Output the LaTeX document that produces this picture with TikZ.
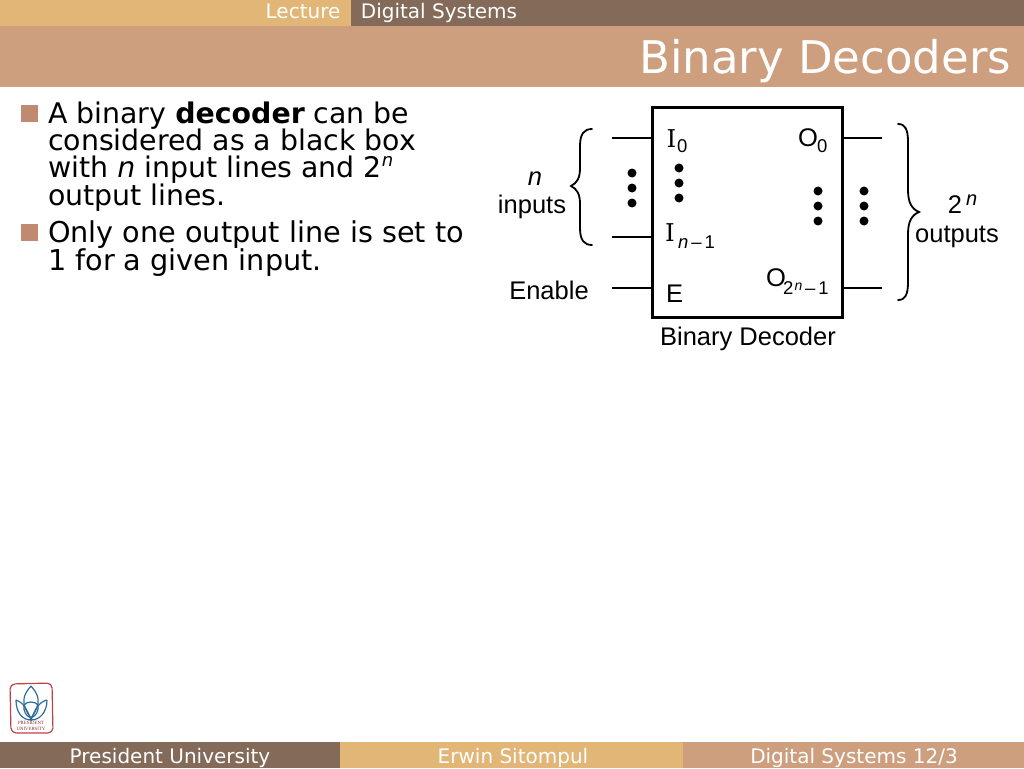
\documentclass[tikz,border=0pt]{standalone}
\usepackage{fontspec}
\setmainfont{DejaVu Sans}
\newfontfamily\arialf{Liberation Sans}
\newfontfamily\timesf{Liberation Serif}
\newfontfamily\slabf{DejaVu Serif}
\definecolor{tanbar}{HTML}{E2B677}
\definecolor{brownbar}{HTML}{836A59}
\definecolor{titlebar}{HTML}{CD9F7E}
\definecolor{bulletc}{HTML}{C08A70}
\definecolor{logored}{HTML}{C0404A}
\definecolor{logoblue}{HTML}{2F6C9C}
\tikzset{
  x=1pt,y=-1pt,
  every node/.style={outer sep=0pt},
  band/.style={draw=none,inner sep=0pt,anchor=north west},
  bartext/.style={text=white,font=\fontsize{20}{20}\selectfont,inner sep=0pt,anchor=base},
  bodytext/.style={font=\fontsize{28.4}{28.4}\selectfont,inner sep=0pt,anchor=base west,text=black},
  bulletsq/.style={fill=bulletc,draw=none,inner sep=0pt,minimum size=16.5pt,anchor=north west},
  difflabel/.style={font=\arialf\fontsize{25.5}{25.5}\selectfont,inner sep=0pt,anchor=base west},
  seriflabel/.style={font=\slabf\fontsize{24.5}{24.5}\selectfont,inner sep=0pt,anchor=base west},
  sublabel/.style={font=\arialf\fontsize{18.5}{18.5}\selectfont,inner sep=0pt,anchor=base west},
  iolabel/.style={font=\arialf\fontsize{25.5}{25.5}\selectfont,inner sep=0pt,anchor=base},
  wire/.style={line width=2pt},
  brace/.style={line width=1.8pt,line cap=round},
  dotc/.style={circle,fill=black,inner sep=0pt,minimum size=9pt},
  lotus/.style={draw=logoblue,line width=1.2pt},
}
\begin{document}
\begin{tikzpicture}
\useasboundingbox (0,0) rectangle (1024,768);
\fill[white] (0,0) rectangle (1024,768);
% header
\node[band,fill=tanbar,minimum width=351pt,minimum height=26pt] (toptan) at (0,0) {};
\node[band,fill=brownbar,minimum width=673pt,minimum height=26pt] (topbrown) at (351,0) {};
\node[band,fill=titlebar,minimum width=1024pt,minimum height=61pt] (titleband) at (0,26) {};
\node[bartext] (lect) at (303,19) {Lecture};
\node[bartext] (ds) at (439,19) {Digital Systems};
\node[font=\fontsize{45}{45}\selectfont,text=white,inner sep=0pt,anchor=base east] (title) at (1011,74) {Binary Decoders};
% footer
\node[band,fill=brownbar,minimum width=340pt,minimum height=26pt] (fa) at (0,742) {};
\node[band,fill=tanbar,minimum width=343pt,minimum height=26pt] (fb) at (340,742) {};
\node[band,fill=titlebar,minimum width=341pt,minimum height=26pt] (fc) at (683,742) {};
\node[bartext] (f1) at (170,763) {President University};
\node[bartext] (f2) at (513,763) {Erwin Sitompul};
\node[bartext] (f3) at (854,763) {Digital Systems 12/3};
% bullets
\node[bulletsq] (b1) at (21,105) {};
\node[bulletsq] (b2) at (21,224) {};
\node[bodytext] (t1) at (48,123) {A binary \textbf{decoder} can be};
\node[bodytext] (t2) at (48,150) {considered as a black box};
\node[bodytext] (t3) at (48,177.5) {with \textit{n} input lines and 2\raisebox{.38em}{\fontsize{18}{18}\selectfont\textit{n}}};
\node[bodytext] (t4) at (48,205) {output lines.};
\node[bodytext,font=\fontsize{28.7}{28.7}\selectfont] (t5) at (48,242) {Only one output line is set to};
\node[bodytext,font=\fontsize{28.7}{28.7}\selectfont] (t6) at (48,270) {1 for a given input.};
% decoder box
\node[draw,line width=3pt,inner sep=0pt,minimum width=190pt,minimum height=210pt,anchor=north west] (box) at (652,107) {};
\coordinate (in0) at (612,138);
\coordinate (in1) at (612,237);
\coordinate (en) at (612,288);
\coordinate (o0) at (882,138);
\coordinate (o1) at (882,288);
\draw[wire] (in0) -- (in0 -| box.west);
\draw[wire] (in1) -- (in1 -| box.west);
\draw[wire] (en) -- (en -| box.west);
\draw[wire] (o0) -- (o0 -| box.east);
\draw[wire] (o1) -- (o1 -| box.east);
% dots
\foreach \n/\x/\y in {a/632/173,b/632/188,c/632/203,d/679/168,e/679/183,f/679/198,g/818/191,h/818/206,i/818/221,j/864/191,k/864/206,l/864/221}
  \node[dotc] (dot\n) at (\x,\y) {};
% braces
\coordinate (lbt) at (592,129);
\coordinate (lbm) at (571,186);
\coordinate (lbb) at (592,245);
\draw[brace] (lbt) .. controls (584,129) and (580,134) .. (580,146)
  -- (580,168) .. controls (580,178) and (577,183) .. (lbm)
  .. controls (577,189) and (580,194) .. (580,204)
  -- (580,228) .. controls (580,240) and (584,245) .. (lbb);
\coordinate (rbt) at (898,124);
\coordinate (rbm) at (919,212);
\coordinate (rbb) at (898,300);
\draw[brace] (rbt) .. controls (905,124) and (908,129) .. (908,142)
  -- (908,190) .. controls (908,203) and (912,209) .. (rbm)
  .. controls (912,215) and (908,221) .. (908,234)
  -- (908,282) .. controls (908,295) and (905,300) .. (rbb);
% labels
\node[seriflabel] (lI0) at (666.5,147) {I};
\node[sublabel] (lI0s) at (677,152) {0};
\node[seriflabel] (lIn) at (665,241) {I};
\node[sublabel] (lIns) at (678,248) {\textit{n}\,–\,1};
\node[difflabel] (lE) at (666,302) {E};
\node[difflabel] (lO0) at (798,146) {O};
\node[sublabel] (lO0s) at (817,152) {0};
\node[difflabel] (lO1) at (766,286) {O};
\node[sublabel] (lO1s) at (783,294) {2};
\node[sublabel,font=\arialf\fontsize{14}{14}\selectfont] (lO1n) at (794.5,290) {\textit{n}};
\node[sublabel] (lO1m) at (805,294) {–\,1};
\node[iolabel] (nin) at (535,185) {\textit{n}};
\node[iolabel] (inp) at (532,213) {inputs};
\node[iolabel] (enl) at (549,299) {Enable};
\node[iolabel] (two) at (955,213) {2};
\node[sublabel,font=\arialf\fontsize{20}{20}\selectfont] (twon) at (966,205) {\textit{n}};
\node[iolabel] (outl) at (957,242) {outputs};
\node[iolabel] (bd) at (748,345) {Binary Decoder};
% logo
\draw[logored,line width=1.2pt,fill=white,rounded corners=5pt] (10,684) -- (52,683) -- (53,733) -- (11,733) -- cycle;
\draw[lotus] (31,686) .. controls (23,695) and (20,703) .. (31,718) .. controls (42,703) and (39,695) .. (31,686);
\draw[lotus] (16,700) .. controls (16,712) and (22,720) .. (31,720) .. controls (27,709) and (23,702) .. (16,700);
\draw[lotus] (47,700) .. controls (47,712) and (40,720) .. (31,720) .. controls (35,709) and (39,702) .. (47,700);
\draw[lotus] (24,705) .. controls (27,701) and (35,701) .. (38,705) .. controls (39,711) and (36,716) .. (31,718) .. controls (26,716) and (23,711) .. (24,705);
\node[font=\timesf\fontsize{4.8}{5.4}\selectfont,text=logored!70!black,inner sep=0pt,align=center,anchor=north] (logot) at (31,721.5) {PRESIDENT\\UNIVERSITY};
\end{tikzpicture}
\end{document}
